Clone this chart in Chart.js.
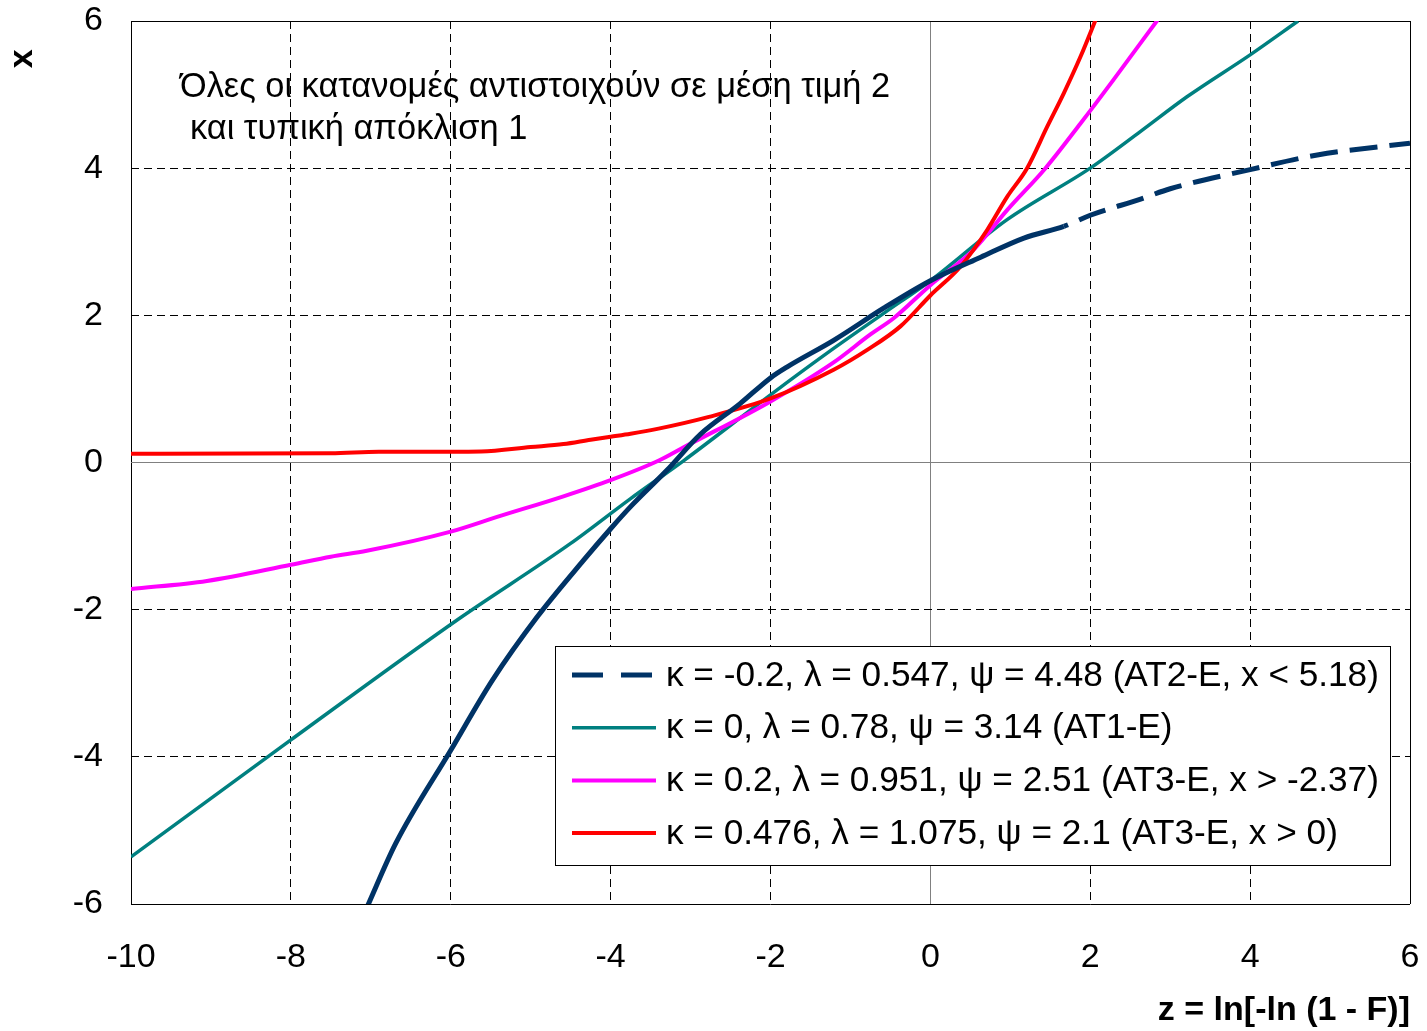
<!DOCTYPE html>
<html>
<head>
<meta charset="utf-8">
<script src="https://cdn.jsdelivr.net/npm/chart.js@4/dist/chart.umd.min.js"></script>
<style>
  html, body { margin: 0; padding: 0; background: #fff; }
  #wrap { width: 1427px; height: 1031px; position: relative; }
</style>
</head>
<body>
<div id="wrap"><canvas id="c" width="1427" height="1031"></canvas></div>
<script>
// ---- data ----
const X_TICKS = [-10, -8, -6, -4, -2, 0, 2, 4, 6];
const Y_TICKS = [-6, -4, -2, 0, 2, 4, 6];

const LABELS = [
  'κ = -0.2, λ = 0.547, ψ = 4.48 (AT2-E, x < 5.18)',
  'κ = 0, λ = 0.78, ψ = 3.14 (AT1-E)',
  'κ = 0.2, λ = 0.951, ψ = 2.51 (AT3-E, x > -2.37)',
  'κ = 0.476, λ = 1.075, ψ = 2.1 (AT3-E, x > 0)'
];

const Z_NAVY = [-7.05, -6.69, -6.0, -5.48, -4.92, -4.34, -4.0, -3.75, -3.29, -2.88, -2.38, -2.0, -1.79, -1.21, -0.58, 0, 0.63, 1.17, 1.67, 2.0, 2.63, 3.0, 4.0, 4.84, 6.0];
const X_NAVY = [-6.05, -5.18, -3.91, -2.96, -2.10, -1.33, -0.90, -0.60, -0.10, 0.38, 0.80, 1.15, 1.30, 1.66, 2.10, 2.47, 2.79, 3.05, 3.21, 3.36, 3.58, 3.72, 3.98, 4.18, 4.34];

const Z_TEAL = [-10, -8, -5.92, -4.5, -3.75, -3.08, -2, -1.21, -0.58, 0, 0.96, 2, 2.63, 3.21, 4, 4.6];
const X_TEAL = [-5.36, -3.77, -2.14, -1.10, -0.49, 0.03, 0.92, 1.55, 2.03, 2.47, 3.30, 4.0, 4.50, 4.97, 5.54, 6.0];

const Z_MAG = [-10, -9.05, -8, -7.5, -7.05, -6, -5.42, -4.59, -4, -3.39, -3.08, -2, -1.21, -0.75, -0.46, 0, 0.54, 0.96, 1.44, 1.88, 2.29, 2.84];
const X_MAG = [-1.72, -1.61, -1.39, -1.28, -1.20, -0.94, -0.74, -0.46, -0.24, 0.03, 0.21, 0.83, 1.36, 1.74, 1.96, 2.41, 2.89, 3.43, 4.0, 4.61, 5.20, 6.01];

const Z_RED = [-10, -7.5, -6.9, -6, -5.62, -5.0, -4.59, -4.25, -4.0, -3.75, -3.4, -2.77, -2.0, -1.21, -0.79, -0.375, 0, 0.375, 0.71, 0.96, 1.21, 1.46, 1.67, 1.88, 2.08];
const X_RED = [0.12, 0.125, 0.147, 0.147, 0.15, 0.21, 0.25, 0.31, 0.35, 0.39, 0.46, 0.62, 0.87, 1.26, 1.53, 1.85, 2.27, 2.66, 3.16, 3.61, 4.0, 4.56, 5.02, 5.52, 6.05];

const NOTE_LINES = ['Όλες οι κατανομές αντιστοιχούν σε μέση τιμή 2', 'και τυπική απόκλιση 1'];
const X_TITLE = 'z = ln[-ln (1 - F)]';
const Y_TITLE = 'x';

// ---- build ----
const FONT = '"Liberation Sans", Arial, sans-serif';
const pts = (zs, xs) => zs.map((z, i) => ({ x: z, y: xs[i] }));
const NAVY_LEGEND_DASH = [31, 18];
const NAVY_DASH = [28, 12];
const NAVY_DASH_FROM = 1.6;

const overlay = {
  id: 'overlay',
  afterDraw(chart) {
    const ctx = chart.ctx;
    ctx.save();
    ctx.font = '34.4px ' + FONT;
    ctx.fillStyle = '#000';
    ctx.textAlign = 'left';
    ctx.textBaseline = 'alphabetic';
    ctx.fillText(NOTE_LINES[0], 180, 97);
    ctx.fillText(NOTE_LINES[1], 190, 139);

    // legend box
    const bx = 555, by = 646, bw = 835, bh = 219;
    ctx.fillStyle = '#fff';
    ctx.fillRect(bx, by, bw, bh);
    ctx.strokeStyle = '#000';
    ctx.lineWidth = 1;
    ctx.strokeRect(bx + 0.5, by + 0.5, bw, bh);
    ctx.font = '35.2px ' + FONT;
    chart.data.datasets.forEach((ds, i) => {
      if (!ds.label) return;
      const y = 675 + i * 52.7;
      ctx.beginPath();
      ctx.setLineDash(ds.borderDash || []);
      ctx.lineCap = 'butt';
      ctx.lineWidth = ds.borderWidth;
      ctx.strokeStyle = ds.borderColor;
      ctx.moveTo(572, y);
      ctx.lineTo(656, y);
      ctx.stroke();
      ctx.setLineDash([]);
      ctx.fillStyle = '#000';
      ctx.textBaseline = 'middle';
      ctx.fillText(ds.label, 666, y + 1);
    });
    ctx.restore();
  }
};

const edgeOrZero = (v, a, b) => v === 0 || v === a || v === b;

new Chart(document.getElementById('c'), {
  type: 'line',
  data: {
    datasets: [
      { label: LABELS[0], data: pts(Z_NAVY, X_NAVY), borderColor: '#003366', borderWidth: 5,
        borderDash: NAVY_LEGEND_DASH, order: 0,
        segment: {
          borderDash: c => (c.p0.parsed.x >= NAVY_DASH_FROM ? NAVY_DASH : []),
          borderDashOffset: c => (c.p0.parsed.x >= NAVY_DASH_FROM ? 23.5 : 0)
        } },
      { label: LABELS[1], data: pts(Z_TEAL, X_TEAL), borderColor: '#008080', borderWidth: 3.5, order: 3 },
      { label: LABELS[2], data: pts(Z_MAG, X_MAG), borderColor: '#FF00FF', borderWidth: 4, order: 2 },
      { label: LABELS[3], data: pts(Z_RED, X_RED), borderColor: '#FF0000', borderWidth: 4, order: 1 }
    ]
  },
  options: {
    responsive: false,
    animation: false,
    parsing: false,
    layout: { padding: { top: 21, right: 17, bottom: 0, left: 0 } },
    elements: {
      point: { radius: 0, hoverRadius: 0 },
      line: { cubicInterpolationMode: 'monotone', borderCapStyle: 'butt', borderJoinStyle: 'round' }
    },
    datasets: { line: { clip: 0 } },
    plugins: { legend: { display: false }, tooltip: { enabled: false } },
    scales: {
      x: {
        type: 'linear', min: -10, max: 6,
        afterBuildTicks: s => { s.ticks = X_TICKS.map(v => ({ value: v })); },
        afterFit: s => { s.height = 127; s.paddingLeft = 0; s.paddingRight = 0; },
        ticks: { color: '#000', font: { size: 34, family: FONT }, padding: 33, maxRotation: 0 },
        grid: { drawTicks: false, lineWidth: 1,
          color: c => (c.tick && c.tick.value === 0 ? '#808080' : '#000') },
        border: { display: false,
          dash: c => (c.tick && edgeOrZero(c.tick.value, -10, 6) ? [] : [8, 5]) },
        title: { display: true, text: X_TITLE, align: 'end', color: '#000',
          font: { size: 34, weight: 'bold', family: FONT }, padding: { top: 0, bottom: 0 } }
      },
      y: {
        type: 'linear', min: -6, max: 6,
        afterBuildTicks: s => { s.ticks = Y_TICKS.map(v => ({ value: v })); },
        afterFit: s => { s.width = 131; s.paddingTop = 0; s.paddingBottom = 0; },
        ticks: { color: '#000', font: { size: 34, family: FONT }, padding: 28 },
        grid: { drawTicks: false, lineWidth: 1,
          color: c => (c.tick && c.tick.value === 0 ? '#808080' : '#000') },
        border: { display: false,
          dash: c => (c.tick && edgeOrZero(c.tick.value, -6, 6) ? [] : [8, 5]) },
        title: { display: true, text: Y_TITLE + '   ', align: 'end', color: '#000',
          font: { size: 34, weight: 'bold', family: FONT }, padding: { top: 2, bottom: 0 } }
      }
    }
  },
  plugins: [overlay]
});
</script>
</body>
</html>
